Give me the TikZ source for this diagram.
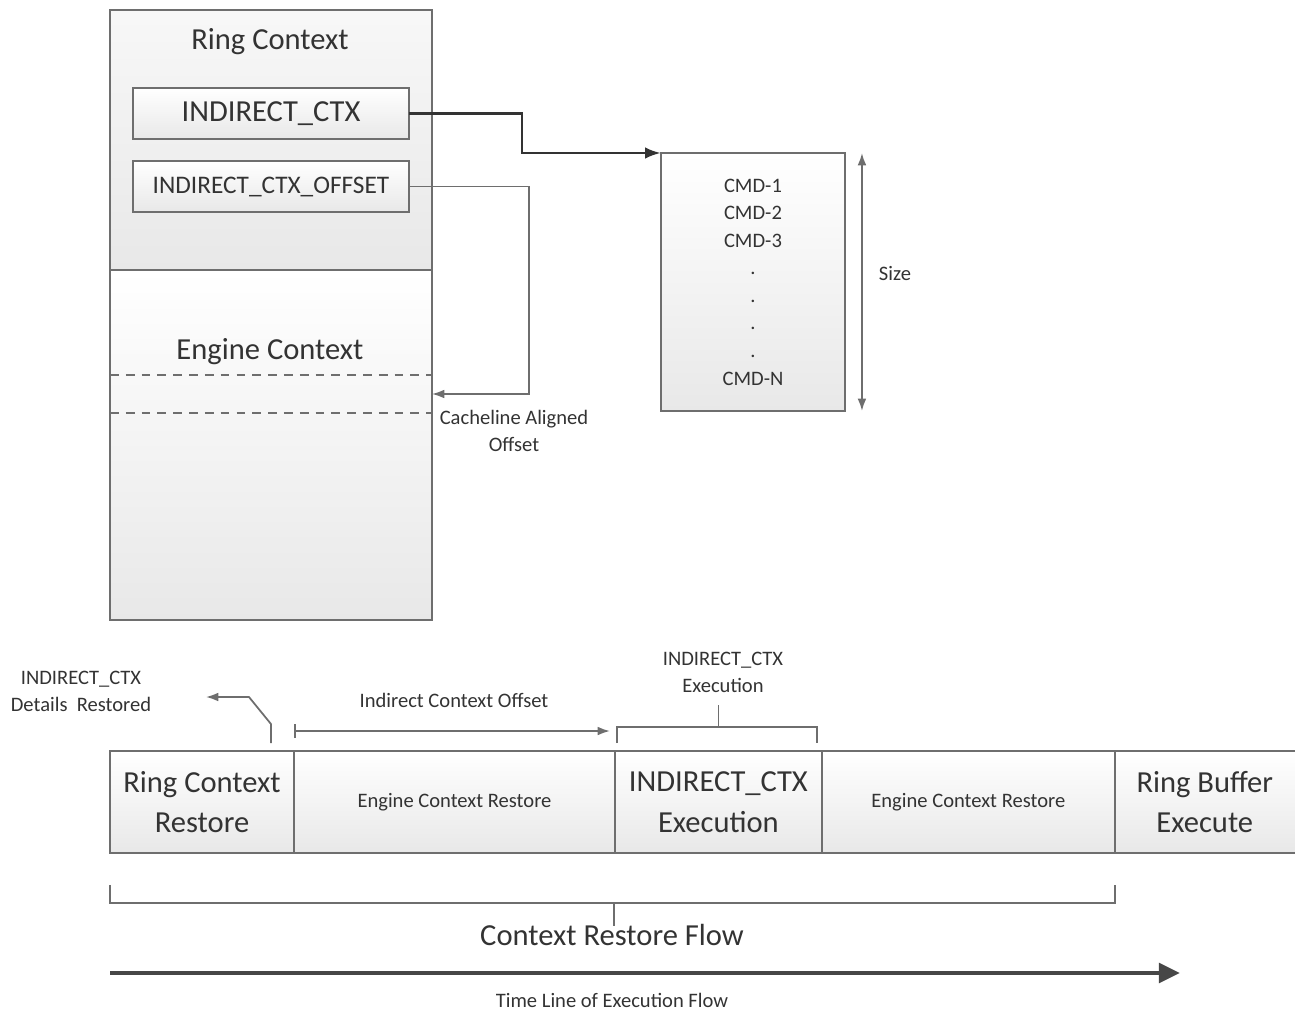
\documentclass[tikz,border=0pt]{standalone}
\usepackage{fontspec}
\setmainfont{Carlito}
\usetikzlibrary{arrows.meta,calc,positioning}
\tikzset{>=Latex}

\definecolor{edge}{HTML}{6E6E6E}
\definecolor{ink}{HTML}{333333}

\tikzset{
    block/.style={draw=edge, line width=1pt, top color=white, bottom color=black!9,
        text=ink, align=center, inner sep=0pt, outer sep=0pt},
    big/.style={font=\fontsize{17.4}{23.2}\selectfont, text=ink, align=center},
    small/.style={font=\fontsize{11.7}{15.4}\selectfont, text=ink, align=center},
    link/.style={draw=edge, line width=1pt},
}

\begin{document}
\begin{tikzpicture}[x=0.02cm, y=-0.02cm]
    \useasboundingbox (0,0) rectangle (1295,1010);

    % Context image
    \begin{scope}
        \node[block, anchor=north west, minimum width=6.44cm, minimum height=5.2cm,
            top color=black!3, bottom color=black!9] (ring) at (110,10) {};
        \node[block, anchor=north west, minimum width=6.44cm, minimum height=7cm] (engine) at (110,270) {};
        \node[big] (ringtitle) at (270,42) {Ring Context};
        \node[block, big, minimum width=5.52cm, minimum height=1.02cm] (ictx) at (271,113.5) {INDIRECT\_CTX};
        \node[block, minimum width=5.52cm, minimum height=1.02cm,
            font=\fontsize{14.4}{17}\selectfont] (ioff) at (271,186.5) {INDIRECT\_CTX\_OFFSET};
        \node[big] (enginetitle) at (270,352) {Engine Context};
        \draw[edge, line width=1.2pt, dash pattern=on 5pt off 4pt] (110,375) -- (432,375);
        \draw[edge, line width=1.2pt, dash pattern=on 5pt off 4pt] (110,413) -- (432,413);
        \coordinate (aligned) at (432,394);
        \node[small] (cacheline) at (514,431) {Cacheline Aligned\\Offset};
        \draw[link, -{Latex[length=7pt,width=5pt]}] (ioff.east) -- ++(120,0) |- (aligned);
    \end{scope}

    % Indirect buffer
    \begin{scope}
        \node[block, anchor=north west, minimum width=3.68cm, minimum height=5.16cm] (cmd) at (661,153) {};
        \node[small, font=\fontsize{11.7}{15.7}\selectfont] (cmdlist) at (cmd.center)
            {CMD-1\\CMD-2\\CMD-3\\.\\.\\.\\.\\CMD-N};
        \draw[draw=ink, line width=1.6pt, -{Latex[length=9pt,width=6.5pt]}] (ictx.east) -- ++(113,0) |- (cmd.north west);
        \coordinate (sizetop) at ($(cmd.north east)+(17,0)$);
        \coordinate (sizebot) at ($(cmd.south east)+(17,0)$);
        \draw[link, {Latex[length=7pt,width=5pt]}-{Latex[length=7pt,width=5pt]}] (sizetop) -- (sizebot);
        \node[small] (size) at (895,273) {Size};
    \end{scope}

    % Restore flow
    \begin{scope}
        \node[block, big, minimum width=3.68cm, minimum height=2.04cm] (rcr) at (202,802) {Ring Context\\Restore};
        \node[block, small, minimum width=6.42cm, minimum height=2.04cm, right=0pt of rcr] (ecra) {Engine Context Restore};
        \node[block, big, minimum width=4.14cm, minimum height=2.04cm, right=0pt of ecra] (ixe) {INDIRECT\_CTX\\Execution};
        \node[block, small, minimum width=5.86cm, minimum height=2.04cm, right=0pt of ixe] (ecrb) {Engine Context Restore};
        \node[block, big, draw=none, minimum width=3.6cm, minimum height=2.04cm, right=0pt of ecrb] (rbe) {Ring Buffer\\Execute};
        \draw[link] (rbe.north east) -- (rbe.north west) -- (rbe.south west) -- (rbe.south east);

        \node[small] (details) at (81,691) {INDIRECT\_CTX\\Details~ Restored};
        \coordinate (detailsend) at (206,697);
        \draw[link, -{Latex[length=7pt,width=5pt]}] ($(rcr.north east)+(-23,-8)$) -- ++(0,-19) -- ++(-22,-27) -- (detailsend);

        \node[small] (offlabel) at (454,700) {Indirect Context Offset};
        \draw[link, {Bar[width=8pt]}-{Latex[length=7pt,width=5pt]}] ($(ecra.north west)+(0,-20)$) -- ($(ixe.north west)+(-5,-20)$);

        \node[small] (ixelabel) at (723,672) {INDIRECT\_CTX\\Execution};
        \draw[link] ($(ixe.north west)+(2,-8)$) -- ++(0,-16) -- ($(ixe.north east)+(-5,-24)$) -- ++(0,16);
        \draw[link] ($(ixe.north)+(0,-24)$) -- ++(0,-22);

        \draw[link] ($(rcr.south west)+(0,32)$) -- ++(0,18) -| ($(ecrb.south east)+(0,32)$);
        \draw[link] (614,903) -- (614,926);
        \node[big] (flow) at (612,935) {Context Restore Flow};

        \coordinate (timestart) at (110,973);
        \coordinate (timeend) at (1180,973);
        \draw[draw=black!72, line width=2.4pt, -{Triangle[length=12pt,width=11pt]}] (timestart) -- (timeend);
        \node[small] (timeline) at (612,1000) {Time Line of Execution Flow};
    \end{scope}
\end{tikzpicture}
\end{document}
